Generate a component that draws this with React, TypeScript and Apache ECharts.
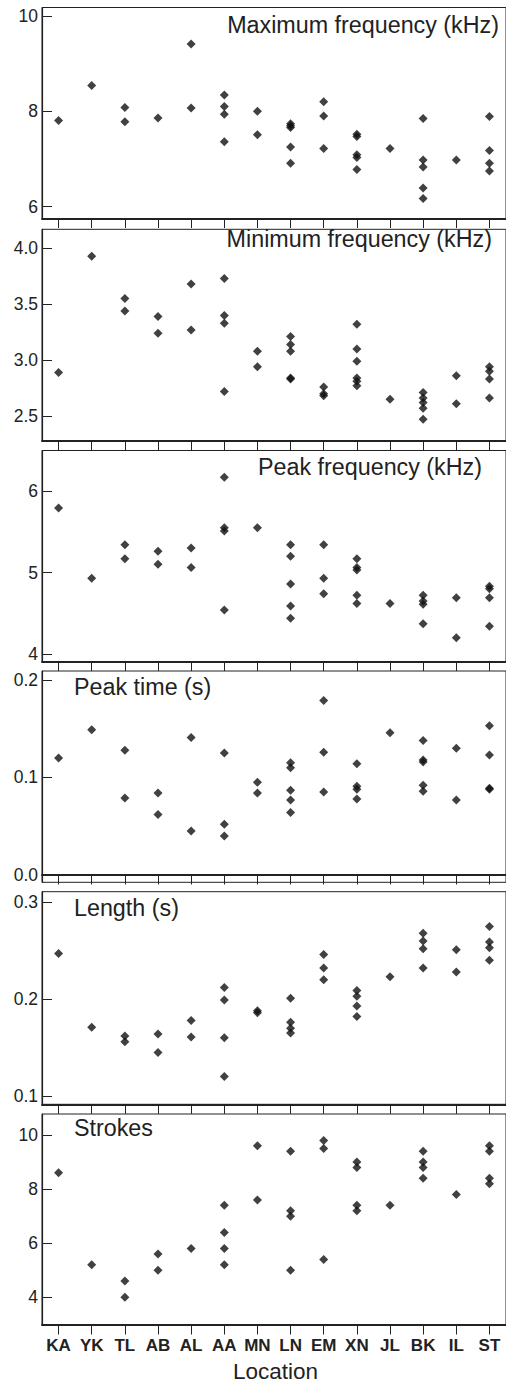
import React, { useEffect, useRef } from "react";
import * as echarts from "echarts";

const categories = ["KA", "YK", "TL", "AB", "AL", "AA", "MN", "LN", "EM", "XN", "JL", "BK", "IL", "ST"];

const maxFreq: number[][] = [
  [7.81], [8.54], [8.08, 7.78], [7.86], [9.41, 8.07], [8.34, 8.1, 7.94, 7.36], [8.0, 7.51],
  [7.74, 7.7, 7.66, 7.25, 6.91], [8.2, 7.9, 7.22], [7.52, 7.47, 7.09, 7.03, 6.78], [7.22],
  [7.85, 6.98, 6.83, 6.39, 6.17], [6.98], [7.89, 7.18, 6.91, 6.75],
];
const minFreq: number[][] = [
  [2.89], [3.93], [3.55, 3.44], [3.39, 3.24], [3.68, 3.27], [3.73, 3.4, 3.33, 2.72], [3.08, 2.94],
  [3.21, 3.14, 3.08, 2.84, 2.83], [2.76, 2.7, 2.68], [3.32, 3.1, 2.99, 2.84, 2.81, 2.77], [2.65],
  [2.71, 2.66, 2.62, 2.57, 2.47], [2.86, 2.61], [2.94, 2.9, 2.83, 2.66],
];
const peakFreq: number[][] = [
  [5.79], [4.93], [5.34, 5.17], [5.26, 5.1], [5.3, 5.06], [6.17, 5.55, 5.51, 4.54], [5.55],
  [5.34, 5.2, 4.86, 4.59, 4.44], [5.34, 4.93, 4.74], [5.17, 5.06, 5.03, 4.72, 4.62], [4.62],
  [4.72, 4.65, 4.61, 4.37], [4.69, 4.2], [4.83, 4.8, 4.69, 4.34],
];
const peakTime: number[][] = [
  [0.12], [0.149], [0.128, 0.079], [0.084, 0.062], [0.141, 0.045], [0.125, 0.052, 0.04], [0.095, 0.084],
  [0.115, 0.11, 0.087, 0.077, 0.064], [0.179, 0.126, 0.085], [0.114, 0.091, 0.088, 0.078], [0.146],
  [0.138, 0.118, 0.116, 0.092, 0.086], [0.13, 0.077], [0.153, 0.123, 0.089, 0.088],
];
const lengthS: number[][] = [
  [0.247], [0.171], [0.162, 0.156], [0.164, 0.145], [0.178, 0.161], [0.212, 0.199, 0.16, 0.12], [0.188, 0.186],
  [0.201, 0.176, 0.17, 0.165], [0.246, 0.232, 0.22], [0.209, 0.203, 0.193, 0.182], [0.223],
  [0.268, 0.26, 0.252, 0.232], [0.251, 0.228], [0.275, 0.259, 0.253, 0.24],
];
const strokes: number[][] = [
  [8.6], [5.2], [4.6, 4.0], [5.6, 5.0], [5.8], [7.4, 6.4, 5.8, 5.2], [9.6, 7.6],
  [9.4, 7.2, 7.0, 5.0], [9.8, 9.5, 5.4], [9.0, 8.8, 7.4, 7.2], [7.4],
  [9.4, 9.0, 8.8, 8.4], [7.8], [9.6, 9.4, 8.4, 8.2],
];

const panelTitles = [
  "Maximum frequency (kHz)",
  "Minimum frequency (kHz)",
  "Peak frequency (kHz)",
  "Peak time (s)",
  "Length (s)",
  "Strokes",
];
const yTicks: number[][] = [
  [6, 8, 10],
  [2.5, 3.0, 3.5, 4.0],
  [4, 5, 6],
  [0.0, 0.1, 0.2],
  [0.1, 0.2, 0.3],
  [4, 6, 8, 10],
];
const yDecimals = [0, 1, 0, 1, 1, 0];
const panelData = [maxFreq, minFreq, peakFreq, peakTime, lengthS, strokes];
const xAxisName = "Location";

// layout
const yRanges: [number, number][] = [
  [5.752, 10.178],
  [2.279, 4.17],
  [3.908, 6.497],
  [-0.0075, 0.2092],
  [0.0914, 0.3109],
  [2.976, 10.776],
];
const gridTops = [7.5, 229.3, 450.5, 671, 891.7, 1114];
const gridBottoms = [218.5, 440.7, 661.5, 882.3, 1104.3, 1325];
const titlePos: { x: number; y: number; align: "left" | "right" }[] = [
  { x: 499, y: 25.3, align: "right" },
  { x: 492, y: 239, align: "right" },
  { x: 482, y: 467, align: "right" },
  { x: 74, y: 686.7, align: "left" },
  { x: 74, y: 907.7, align: "left" },
  { x: 74, y: 1127.5, align: "left" },
];

const FONT = "'Liberation Sans', Arial, Helvetica, sans-serif";
const INK = "#222";

export default function App() {
  const ref = useRef<HTMLDivElement>(null);
  useEffect(() => {
    if (!ref.current) return;
    const chart = echarts.init(ref.current, undefined, { renderer: "svg" });
    const grids: any[] = [];
    const xAxes: any[] = [];
    const yAxes: any[] = [];
    const series: any[] = [];
    const graphics: any[] = [];
    for (let p = 0; p < 6; p++) {
      const last = p === 5;
      grids.push({
        left: 42,
        right: -1,
        top: gridTops[p],
        height: gridBottoms[p] - gridTops[p],
        show: true,
        borderColor: INK,
        borderWidth: 1,
        containLabel: false,
      });
      xAxes.push({
        type: "category",
        gridIndex: p,
        data: categories,
        boundaryGap: true,
        axisLine: { show: true, lineStyle: { color: INK, width: 2 } },
        axisTick: { show: true, alignWithLabel: true, inside: false, length: 9.5, lineStyle: { color: INK, width: 1 } },
        axisLabel: {
          show: last,
          interval: 0,
          margin: 12,
          fontFamily: FONT,
          fontSize: 17,
          fontWeight: "bold",
          color: INK,
        },
        splitLine: { show: false },
      });
      const dec = yDecimals[p];
      yAxes.push({
        type: "value",
        gridIndex: p,
        min: yRanges[p][0],
        max: yRanges[p][1],
        axisLine: { show: true, lineStyle: { color: INK, width: 1.2 } },
        axisTick: { show: true, inside: true, length: 10, customValues: yTicks[p], lineStyle: { color: INK, width: 1 } },
        axisLabel: {
          show: true,
          customValues: yTicks[p],
          margin: 4,
          fontFamily: FONT,
          fontSize: 17.5,
          color: INK,
          formatter: (v: number) => v.toFixed(dec),
        },
        splitLine: { show: false },
      });
      const d = panelData[p];
      series.push({
        type: "scatter",
        xAxisIndex: p,
        yAxisIndex: p,
        symbol: "diamond",
        symbolSize: 9,
        itemStyle: { color: "#111" },
        data: d.flatMap((vals, i) => vals.map((v) => [categories[i], v])),
      });
      const tp = titlePos[p];
      graphics.push({
        type: "text",
        x: tp.x,
        y: tp.y,
        style: {
          text: panelTitles[p],
          fontFamily: FONT,
          fontSize: 23.3,
          fill: INK,
          textAlign: tp.align,
          textVerticalAlign: "middle",
        },
      });
    }
    graphics.push({
      type: "text",
      x: 275.5,
      y: 1371.5,
      style: {
        text: xAxisName,
        fontFamily: FONT,
        fontSize: 22.5,
        fill: INK,
        textAlign: "center",
        textVerticalAlign: "middle",
      },
    });
    chart.setOption({
      animation: false,
      backgroundColor: "#fff",
      grid: grids,
      xAxis: xAxes,
      yAxis: yAxes,
      series,
      graphic: graphics,
    });
    return () => chart.dispose();
  }, []);
  return (
    <div
      ref={ref}
      style={{ position: "absolute", left: 0, top: 0, width: 506, height: 1383 }}
    />
  );
}
